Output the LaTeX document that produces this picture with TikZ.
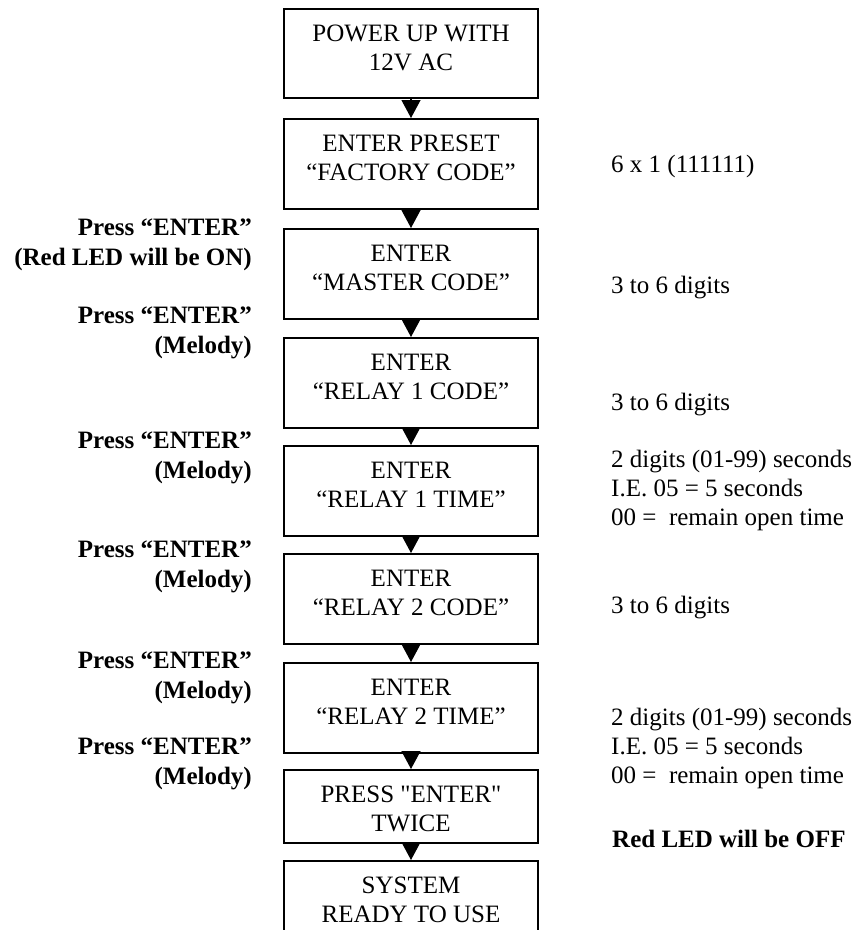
\documentclass[tikz,border=0pt]{standalone}
\usepackage{fontspec}
\setmainfont{Liberation Serif}[Ligatures=TeXOff]
\usetikzlibrary{arrows.meta}

\begin{document}
\begin{tikzpicture}[x=1pt, y=-1pt,
    stepbox/.style={draw, line width=1.5pt, anchor=north, minimum width=254pt,
        minimum height=90pt, inner sep=0pt, label={[boxtext]north:{#1}}},
    boxtext/.style={anchor=north, align=center, inner sep=0pt, yshift=-17pt,
        font=\fontsize{25}{29}\selectfont},
    note/.style={anchor=base west, align=left, inner sep=0pt,
        font=\fontsize{25}{29}\selectfont},
    press/.style={anchor=base east, align=right, inner sep=0pt,
        font=\bfseries\fontsize{25}{30}\selectfont},
    flow/.style={-{Triangle[width=19pt, length=18pt]}, line width=1.2pt}]
    % 页面范围
    \useasboundingbox (0,0) rectangle (857,930);

    % 流程框
    \node[stepbox={POWER UP WITH\\12V AC}, minimum height=89pt] (b1) at (411,8) {};
    \node[stepbox={ENTER PRESET\\“FACTORY CODE”}] (b2) at (411,118) {};
    \node[stepbox={ENTER\\“MASTER CODE”}] (b3) at (411,228) {};
    \node[stepbox={ENTER\\“RELAY 1 CODE”}] (b4) at (411,337) {};
    \node[stepbox={ENTER\\“RELAY 1 TIME”}] (b5) at (411,445) {};
    \node[stepbox={ENTER\\“RELAY 2 CODE”}] (b6) at (411,553) {};
    \node[stepbox={ENTER\\“RELAY 2 TIME”}] (b7) at (411,662) {};
    \node[stepbox={PRESS "ENTER"\\TWICE}, minimum height=73pt] (b8) at (411,769) {};
    \node[stepbox={SYSTEM\\READY TO USE}] (b9) at (411,860) {};

    % 箭头
    \draw[flow] (b1) -- (b2);
    \draw[flow] (b2) -- (b3);
    \draw[flow] (b3) -- (b4);
    \draw[flow] (b4) -- (b5);
    \draw[flow] (b5) -- (b6);
    \draw[flow] (b6) -- (b7);
    \draw[flow] (b7) -- (b8);
    \draw[flow] (b8) -- (b9);

    % 左侧按键说明 (基线在第二行)
    \node[press] (p1) at (252,265) {Press “ENTER”\\(Red LED will be ON)};
    \node[press] (p2) at (252,353) {Press “ENTER”\\(Melody)};
    \node[press] (p3) at (252,478) {Press “ENTER”\\(Melody)};
    \node[press] (p4) at (252,587) {Press “ENTER”\\(Melody)};
    \node[press] (p5) at (252,698) {Press “ENTER”\\(Melody)};
    \node[press] (p6) at (252,784) {Press “ENTER”\\(Melody)\hspace{7pt}};

    % 右侧输入说明
    \node[note] (n2) at (611,172) {6 x 1 (111111)};
    \node[note] (n3) at (611,293) {3 to 6 digits};
    \node[note] (n4) at (611,410) {3 to 6 digits};
    \node[note] (n5) at (611,525) {2 digits (01-99) seconds\\I.E. 05 = 5 seconds\\00 = \ remain open time};
    \node[note] (n6) at (611,613) {3 to 6 digits};
    \node[note] (n7) at (611,783) {2 digits (01-99) seconds\\I.E. 05 = 5 seconds\\00 = \ remain open time};
    \node[note, font=\bfseries\fontsize{25}{29}\selectfont] (n8) at (612,847) {Red LED will be OFF};
\end{tikzpicture}
\end{document}
